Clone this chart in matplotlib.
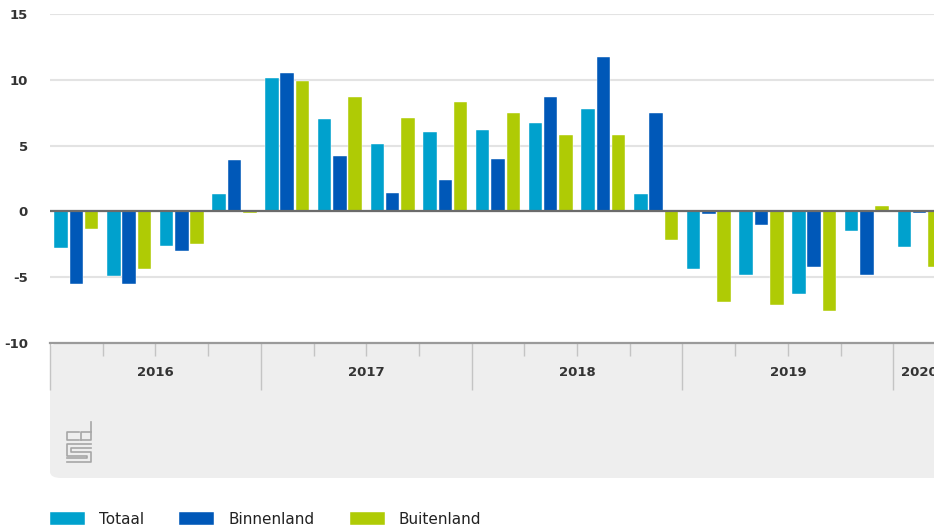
"""
Productie industrie: ontwikkeling per kwartaal (Totaal / Binnenland / Buitenland)
"""

import numpy as np
import matplotlib.pyplot as plt
from matplotlib.patches import FancyBboxPatch
import matplotlib.transforms as mtransforms

plt.rcParams['font.family'] = ['Liberation Sans Narrow', 'DejaVu Sans']

# data: kwartalen 2016 K1 t/m 2020 K1
years = ['2016', '2017', '2018', '2019', '2020']
quarters_per_year = [4, 4, 4, 4, 1]
series_names = ['Totaal', 'Binnenland', 'Buitenland']
totaal = [-2.8, -4.9, -2.6, 1.3,
          10.1, 7.0, 5.1, 6.0,
          6.2, 6.7, 7.8, 1.3,
          -4.4, -4.8, -6.3, -1.5,
          -2.7]
binnenland = [-5.5, -5.5, -3.0, 3.9,
              10.5, 4.2, 1.4, 2.4,
              4.0, 8.7, 11.7, 7.5,
              -0.2, -1.0, -4.2, -4.8,
              -0.1]
buitenland = [-1.3, -4.4, -2.5, -0.1,
              9.9, 8.7, 7.1, 8.3,
              7.5, 5.8, 5.8, -2.2,
              -6.9, -7.1, -7.6, 0.4,
              -4.2]
colors = ['#00a1cd', '#0058b8', '#afcb05']

W, H = 934, 528
fig = plt.figure(figsize=(W / 100, H / 100), dpi=100)

# plotgebied in pixels: links 50, onder 343, boven 14, rechts net buiten beeld
left_px, right_px, top_px, bot_px = 50, 946, 14, 343
ax = fig.add_axes([left_px / W, 1 - bot_px / H,
                   (right_px - left_px) / W, (bot_px - top_px) / H])

n = len(totaal)
x = np.arange(n) + 0.5
bar_w = 0.256
step = 0.29
for k, (vals, name) in enumerate(zip([totaal, binnenland, buitenland], series_names)):
    ax.bar(x + (k - 1) * step, vals, width=bar_w, color=colors[k], label=name,
           edgecolor='white', linewidth=0.3, zorder=3)

ax.set_xlim(0, n)
ax.set_ylim(-10, 15)
ax.set_yticks([-10, -5, 0, 5, 10, 15])
ax.set_yticklabels(['-10', '-5', '0', '5', '10', '15'])
ax.yaxis.grid(True, color='#e3e3e3', linewidth=1.5, zorder=0)
ax.axhline(0, color='#6b6b6b', linewidth=1.6, zorder=4)
ax.tick_params(axis='y', length=0, pad=16, labelsize=9.5, labelcolor='#333333')
for lab in ax.get_yticklabels():
    lab.set_fontweight('bold')

for side in ['top', 'right', 'left']:
    ax.spines[side].set_visible(False)
ax.spines['bottom'].set_color('#9a9a9a')
ax.spines['bottom'].set_linewidth(1.6)
ax.spines['bottom'].set_zorder(5)

# kwartaal- en jaarstreepjes
year_edges = np.concatenate([[0], np.cumsum(quarters_per_year)])
ax.set_xticks(year_edges[:-1])
ax.set_xticks([q for q in range(1, n) if q not in year_edges], minor=True)
ax.tick_params(axis='x', which='major', length=34, width=1, color='#c4c4c4',
               labelbottom=False, direction='out')
ax.tick_params(axis='x', which='minor', length=9, width=1, color='#c4c4c4',
               direction='out')

trans = mtransforms.blended_transform_factory(ax.transData, fig.transFigure)
centers = (year_edges[:-1] + year_edges[1:]) / 2
for yr, c in zip(years, centers):
    ax.text(c, 1 - 372 / H, yr, transform=trans, ha='center', va='center',
            fontsize=9.5, fontweight='bold', color='#333333', clip_on=False)

# grijs paneel onder de as
panel = FancyBboxPatch((left_px / W, 1 - 478 / H), (990 - left_px) / W, (478 - 343) / H,
                       boxstyle='round,pad=0,rounding_size=0.012',
                       transform=fig.transFigure, facecolor='#eeeeee',
                       edgecolor='none', zorder=-1)
fig.add_artist(panel)

# cbs logo (vereenvoudigd), coordinaten in pixels t.o.v. linksonder van het logo
lx, ly = 67, H - 462
logo_paths = [
    [(0, 0), (24, 0), (24, 10), (4, 10), (4, 14), (24, 14)],      # s
    [(0, 4), (20, 4), (20, 6), (0, 6), (0, 18), (24, 18)],
    [(12, 22), (0, 22), (0, 30), (12, 30)],                       # c
    [(14, 22), (24, 22), (24, 40)],                               # b
    [(24, 30), (14, 30), (14, 22)],
]
for path in logo_paths:
    px = [(lx + p[0]) / W for p in path]
    py = [(ly + p[1]) / H for p in path]
    fig.add_artist(plt.Line2D(px, py, transform=fig.transFigure,
                              color='#a6a6a6', linewidth=1.2))

handles, labels = ax.get_legend_handles_labels()
fig.legend(handles, labels, loc='lower left', bbox_to_anchor=(left_px / W, 1 / H),
           ncol=3, frameon=False, fontsize=11, handlelength=2.29, handleheight=0.95,
           handletextpad=0.92, columnspacing=2.3, borderpad=0, borderaxespad=0,
           labelcolor='#222222')

fig.savefig('out.png', dpi=100)
